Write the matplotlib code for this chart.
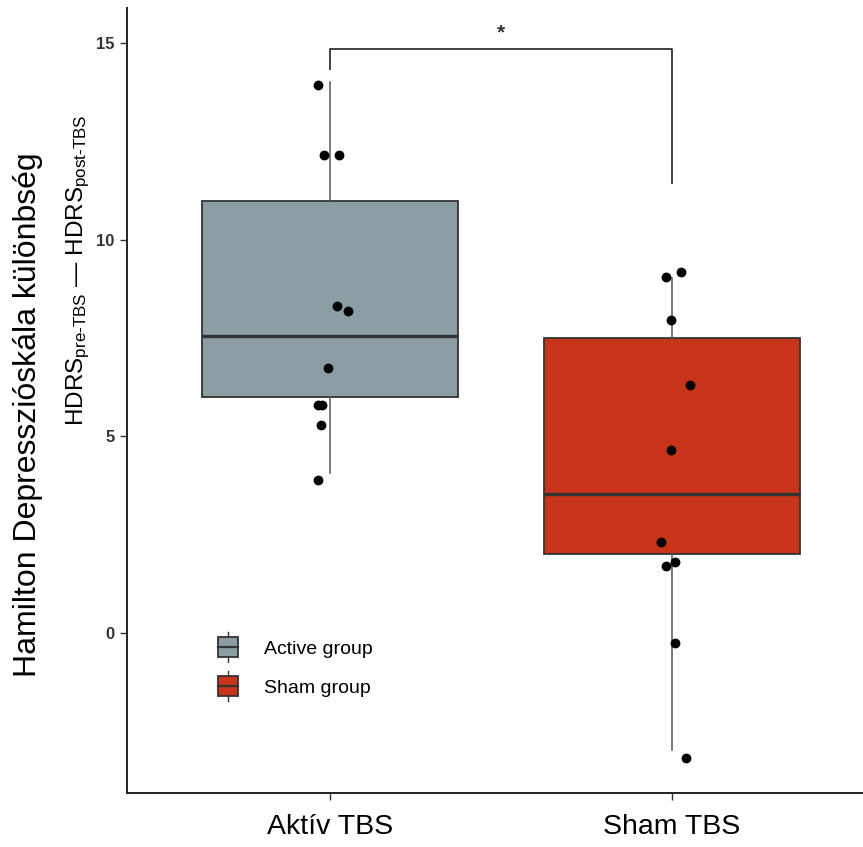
import matplotlib
matplotlib.use("Agg")
import matplotlib.pyplot as plt
from matplotlib.patches import Rectangle, Patch
from matplotlib.lines import Line2D
from matplotlib.legend_handler import HandlerBase

plt.rcParams['font.family'] = ['Liberation Sans', 'DejaVu Sans']
plt.rcParams['mathtext.fontset'] = 'custom'
plt.rcParams['mathtext.rm'] = 'Liberation Sans'
plt.rcParams['mathtext.it'] = 'Liberation Sans:italic'

# data
groups = ["Aktív TBS", "Sham TBS"]
legend_labels = ["Active group", "Sham group"]
fill_colors = ["#8A9EA4", "#C7341A"]

q1 = [6.0, 2.02]
median = [7.55, 3.53]
q3 = [11.0, 7.5]
whis_lo = [4.07, -2.98]
whis_hi = [14.03, 9.02]

active_vals = [13.94, 12.15, 12.15, 8.33, 8.20, 6.74, 5.81, 5.81, 5.30, 3.88]
active_jitter = [-0.036, -0.018, 0.027, 0.021, 0.052, -0.007, -0.036, -0.024, -0.026, -0.036]
sham_vals = [9.05, 9.18, 7.97, 6.32, 4.66, 2.31, 1.71, 1.80, -0.25, -3.18]
sham_jitter = [-0.016, 0.028, -0.001, 0.053, -0.001, -0.030, -0.016, 0.009, 0.009, 0.043]

# significance bracket: left leg end, bar height, right leg end
bracket = [14.34, 14.86, 11.46]
star_label = "*"

yticks = [0, 5, 10, 15]

EDGE = "#333333"


class HandlerBox(HandlerBase):
    def create_artists(self, legend, orig_handle, xdescent, ydescent,
                       width, height, fontsize, trans):
        x0, y0 = -xdescent, -ydescent
        box = Rectangle((x0, y0), width, height,
                        facecolor=orig_handle.get_facecolor(),
                        edgecolor=EDGE, lw=1.3, transform=trans)
        mid = Line2D([x0, x0 + width], [y0 + height / 2] * 2,
                     color=EDGE, lw=1.6, transform=trans)
        top = Line2D([x0 + width / 2] * 2, [y0 + height, y0 + height * 1.25],
                     color=EDGE, lw=1.0, transform=trans)
        bot = Line2D([x0 + width / 2] * 2, [y0, y0 - height * 0.25],
                     color=EDGE, lw=1.0, transform=trans)
        return [top, bot, box, mid]


fig = plt.figure(figsize=(8.63, 8.47), dpi=100)
ax = fig.add_axes([127 / 863, 1 - 793 / 847, 1 - 127 / 863, (793 - 8) / 847])

stats = []
for i in range(len(groups)):
    stats.append(dict(med=median[i], q1=q1[i], q3=q3[i],
                      whislo=whis_lo[i], whishi=whis_hi[i], fliers=[]))
bp = ax.bxp(stats, positions=[1, 2], widths=0.75, patch_artist=True,
            showcaps=False, showfliers=False,
            boxprops=dict(edgecolor=EDGE, lw=1.3),
            medianprops=dict(color=EDGE, lw=2.4),
            whiskerprops=dict(color="#555555", lw=1.1))
for patch, c in zip(bp["boxes"], fill_colors):
    patch.set_facecolor(c)

ax.scatter([1 + j for j in active_jitter], active_vals, s=50, color="black", zorder=3, lw=0)
ax.scatter([2 + j for j in sham_jitter], sham_vals, s=50, color="black", zorder=3, lw=0)

ax.plot([1, 1, 2, 2], [bracket[0], bracket[1], bracket[1], bracket[2]],
        color=EDGE, lw=1.3)
ax.text(1.5, 15.02, star_label, ha="center", va="bottom", fontsize=15,
        fontweight="bold", color=EDGE)

ax.set_xlim(0.405, 2.56)
ax.set_ylim(-4.07, 15.9)
ax.set_xticks([1, 2])
ax.set_xticklabels(groups, fontsize=20.5, color="black")
ax.set_yticks(yticks)
ax.set_yticklabels([str(t) for t in yticks], fontsize=12, fontweight="bold", color="#333333")
ax.tick_params(axis="y", length=5, width=1, color=EDGE, pad=4)
ax.tick_params(axis="x", length=5, width=1, color=EDGE, pad=10)
for s in ["top", "right"]:
    ax.spines[s].set_visible(False)
for s in ["left", "bottom"]:
    ax.spines[s].set_linewidth(1.4)
    ax.spines[s].set_color("#222222")

fig.text(28 / 863, 1 - 415 / 847, "Hamilton Depresszióskála különbség",
         rotation=90, ha="center", va="center", fontsize=23)
fig.text(78 / 863, 1 - 270 / 847,
         r"HDRS$_{\text{pre-TBS}}$ — HDRS$_{\text{post-TBS}}$",
         rotation=90, ha="center", va="center", fontsize=17.5)

handles = [Patch(facecolor=c) for c in fill_colors]
ax.legend(handles, legend_labels, handler_map={Patch: HandlerBox()},
          loc="upper left", bbox_to_anchor=((218 - 127) / 736, (793 - 637) / 785),
          frameon=False, fontsize=14, handlelength=1.05, handleheight=1.2,
          handletextpad=1.3, labelspacing=0.95, borderpad=0, borderaxespad=0)

fig.savefig("out.png", dpi=100)
